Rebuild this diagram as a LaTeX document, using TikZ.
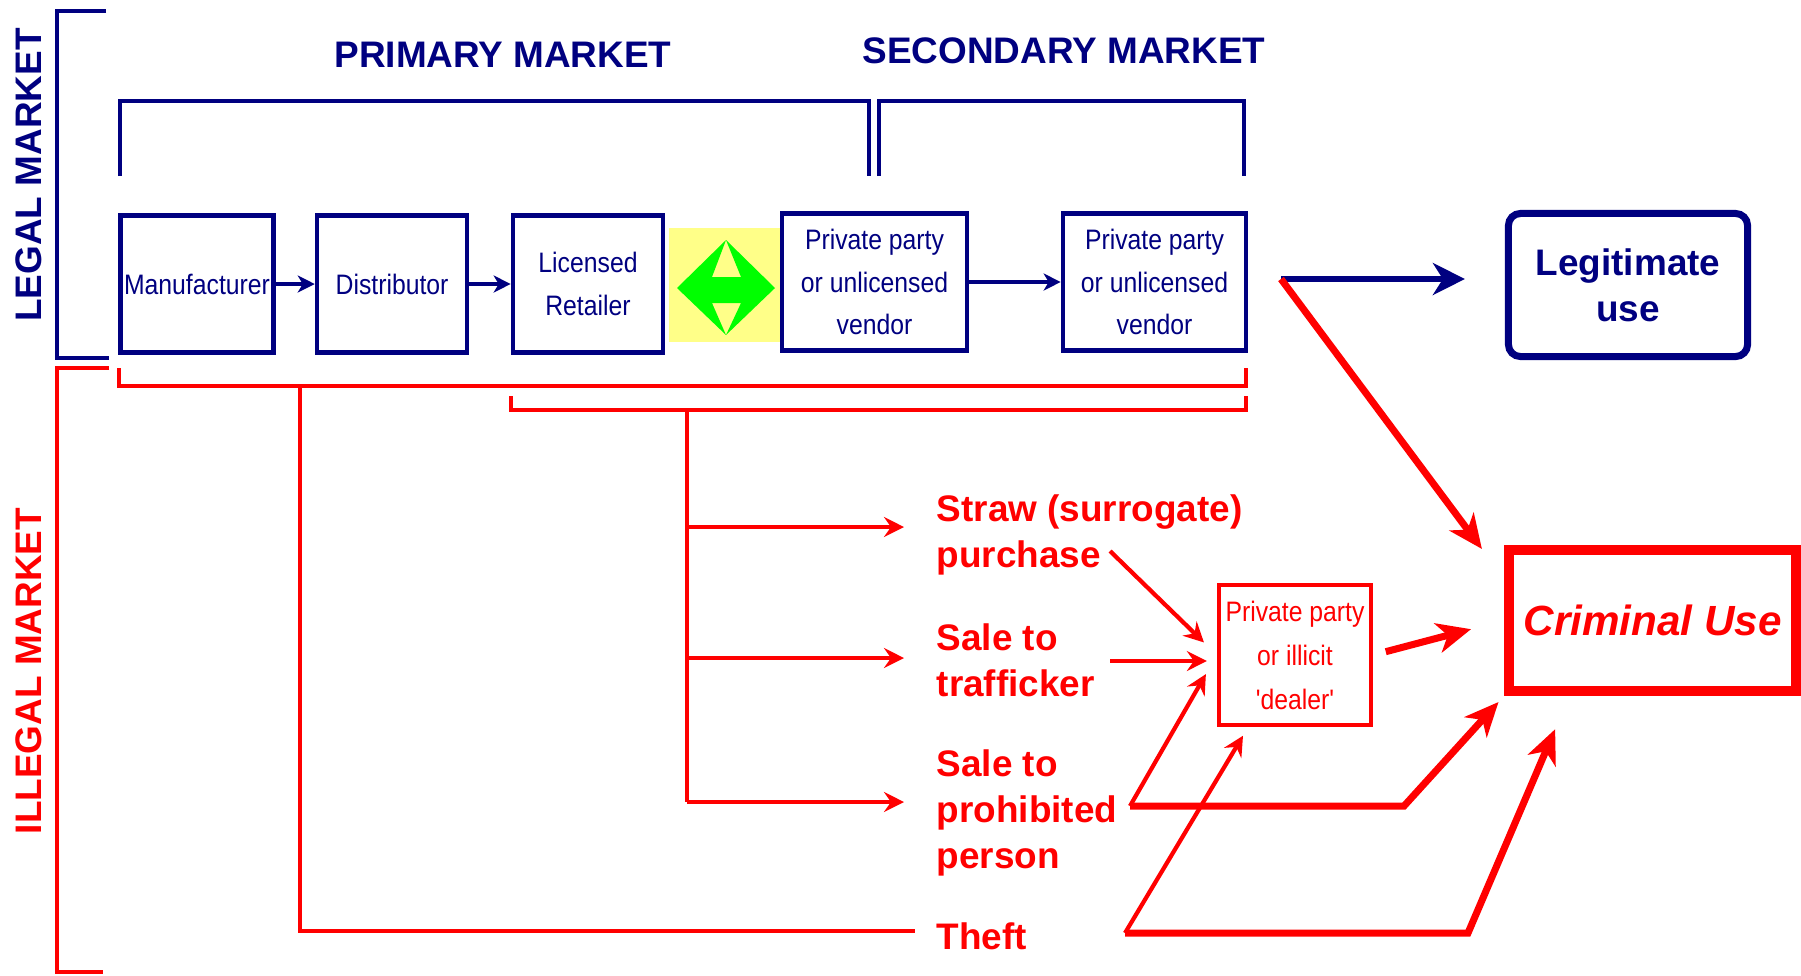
\documentclass[tikz,border=0pt]{standalone}
\usepackage{fontspec}
\setmainfont{Liberation Sans}
\newfontfamily\narrowfont[FakeStretch=0.88]{Liberation Sans}
\usetikzlibrary{arrows.meta, calc, positioning}
\definecolor{navy}{RGB}{0,0,128}
\definecolor{paleyellow}{RGB}{255,255,136}
\definecolor{brightgreen}{RGB}{0,255,0}
\definecolor{brightred}{RGB}{255,0,0}

\begin{document}
\begin{tikzpicture}[
  x=0.01cm, y=-0.01cm,
  >=Stealth,
  stage/.style={rectangle, draw=navy, line width=1.3pt, minimum width=1.5cm, minimum height=1.37cm, inner sep=1pt, align=center, text=navy, font=\narrowfont\fontsize{8}{12}\selectfont},
  heading/.style={text=navy, font=\bfseries\fontsize{10.5}{13}\selectfont},
  illegal/.style={anchor=west, inner sep=0pt, align=left, text=brightred, font=\bfseries\fontsize{10.5}{13}\selectfont},
  navyline/.style={draw=navy, line width=1.3pt},
  redline/.style={draw=brightred, line width=1.2pt},
  navyarrow/.style={navyline, -{Stealth[length=0.17cm, width=0.17cm, inset=0.05cm]}},
  redarrow/.style={redline, -{Stealth[length=0.2cm, width=0.2cm, inset=0.07cm]}},
  redbig/.style={draw=brightred, line width=2pt, -{Stealth[length=0.34cm, width=0.3cm, inset=0.1cm]}}
]
\useasboundingbox (0,0) rectangle (1801,975);

% Market labels
\node[heading, rotate=90] (legal) at (29,175) {LEGAL MARKET};
\node[heading, text=brightred, rotate=90] (illegal) at (29,671) {ILLEGAL MARKET};
\node[heading] (primary) at (503,55) {PRIMARY MARKET};
\node[heading] (secondary) at (1064,51) {SECONDARY MARKET};

% Brackets
\draw[navyline] (106,11) -- (57,11) -- (57,358) -- (109,358);
\draw[redline] (109,368) -- (57,368) -- (57,972) -- (103,972);
\draw[navyline] (120,176) -- (120,101) -- (869,101) -- (869,176);
\draw[navyline] (879,176) -- (879,101) -- (1244,101) -- (1244,176);

% Exchange between retailer and private party
\fill[paleyellow] (669,228) rectangle (781,342);
\fill[brightgreen] (677,288) -- (726,240) -- (712,277) -- (741,277) -- (726,240)
  -- (775,288) -- (726,335) -- (741,303) -- (712,303) -- (726,335) -- cycle;

% Legal chain
\node[stage] (manu) at (197,284) {Manufacturer};
\node[stage, right=0.39cm of manu] (dist) {Distributor};
\node[stage] (retail) at (588,284) {Licensed\\Retailer};
\node[stage, minimum width=1.85cm] (priv1) at (874.5,282) {Private party\\or unlicensed\\vendor};
\node[stage, minimum width=1.83cm] (priv2) at (1154.5,282) {Private party\\or unlicensed\\vendor};

\draw[navyarrow] (manu) -- (dist);
\draw[navyarrow] (dist) -- (retail);
\draw[navyarrow] (priv1) -- (priv2);

% Outcomes
\node[rectangle, rounded corners=0.12cm, draw=navy, line width=2pt, minimum width=2.39cm, minimum height=1.43cm, align=center, text=navy, font=\bfseries\fontsize{10.5}{13}\selectfont] (legit) at (1628,285) {Legitimate\\use};
\node[rectangle, draw=brightred, line width=2.85pt, minimum width=2.87cm, minimum height=1.41cm, text=brightred, font=\bfseries\itshape\fontsize{12}{14}\selectfont] (crim) at (1652.5,620.5) {Criminal Use};
\node[stage, draw=brightred, text=brightred, line width=1.2pt, minimum width=1.52cm, minimum height=1.4cm, font=\narrowfont\fontsize{8}{12.5}\selectfont] (dealer) at (1295,655) {Private party\\or illicit\\'dealer'};

\coordinate (fork) at (1281,279);
\draw[navyline, line width=1.5pt, -{Stealth[length=0.32cm, width=0.32cm, inset=0.1cm]}, shorten >=0.4cm] (fork) -- (fork -| legit.west);
\draw[redbig] (fork) -- ($(crim.north west)+(-22,4)$);

% Illegal diversion
\draw[redline] (119,368) -- (119,386) -- (1246,386) -- (1246,368);
\draw[redline] (511,396) -- (511,410) -- (1246,410) -- (1246,396);
\coordinate (theftroot) at (300,386);
\coordinate (saleroot) at (687,410);

\node[illegal] (straw) at (936,535) {Straw (surrogate)\\purchase};
\node[illegal] (traff) at (936,660) {Sale to\\trafficker};
\node[illegal] (prohib) at (936,813) {Sale to\\prohibited\\person};
\node[illegal] (theft) at (936,936) {Theft};

\coordinate (strawin) at ([yshift=0.08cm]straw.west);
\coordinate (traffin) at ([yshift=0.02cm]traff.west);
\coordinate (prohibin) at ([yshift=0.11cm]prohib.west);

\draw[redline] (saleroot) -- (saleroot |- prohibin);
\foreach \lab in {strawin, traffin, prohibin}
  \draw[redarrow, shorten >=0.32cm] (saleroot |- \lab) -- (\lab);
\draw[redline, shorten >=0.21cm] (theftroot) |- ([yshift=0.05cm]theft.west);

% Into the dealer
\coordinate (strawout) at (1110,551);
\coordinate (traffout) at (1110,661);
\coordinate (prohibout) at (1130,806);
\coordinate (theftout) at (1125,933);

\draw[redarrow, shorten >=0.18cm] (strawout) -- (dealer.west);
\draw[redarrow, shorten >=0.1cm] (traffout) -- (traffout -| dealer.west);
\draw[redarrow, shorten >=0.22cm] (prohibout) -- (dealer.west);
\draw[redarrow, shorten >=0.1cm] (theftout) -- ($(dealer.south west)!0.2!(dealer.south east)$);

% Into criminal use
\draw[redbig, shorten <=0.13cm, shorten >=0.34cm] (dealer.east) -- (crim.west);
\draw[redbig, shorten >=0.08cm] (prohibout) -- (1404,806) -- (crim.south west);
\draw[redbig, shorten >=0.36cm] (theftout) -- (1468,933) -- ($(crim.south west)!0.22!(crim.south east)$);

\end{tikzpicture}
\end{document}
